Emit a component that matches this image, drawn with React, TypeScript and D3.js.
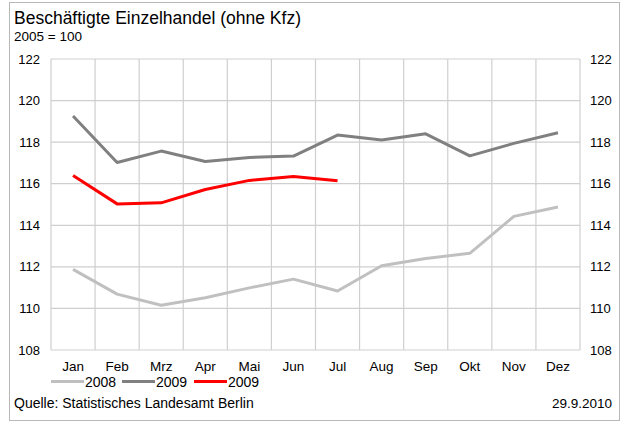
import React from "react";
import * as d3 from "d3";

const months = ["Jan", "Feb", "Mrz", "Apr", "Mai", "Jun", "Jul", "Aug", "Sep", "Okt", "Nov", "Dez"];
const yTicks = [108, 110, 112, 114, 116, 118, 120, 122];

const values2008 = [111.88, 110.69, 110.15, 110.51, 110.99, 111.41, 110.84, 112.05, 112.4, 112.65, 114.43, 114.88];
const values2009 = [119.26, 117.02, 117.57, 117.07, 117.26, 117.33, 118.34, 118.1, 118.4, 117.34, 117.94, 118.45];
const values2009b = [116.4, 115.03, 115.08, 115.72, 116.16, 116.35, 116.14];

const series = [
  { label: "2008", values: values2008, color: "#c0c0c0" },
  { label: "2009", values: values2009, color: "#808080" },
  { label: "2009", values: values2009b, color: "#ff0000" },
];

const W = 621;
const H = 422;
const plot = { left: 51, right: 580, top: 59, bottom: 350 };
const font = "Arial, 'Liberation Sans', sans-serif";

export default function App() {
  const x = d3.scaleBand<string>().domain(months).range([plot.left, plot.right]);
  const y = d3.scaleLinear().domain([108, 122]).range([plot.bottom, plot.top]);
  const line = d3
    .line<number>()
    .x((_, i) => (x(months[i]) as number) + x.bandwidth() / 2)
    .y((d) => y(d));

  const legendX = [51, 122, 194];

  return (
    <svg width={W} height={H} style={{ position: "absolute", left: 0, top: 0 }} fontFamily={font}>
      <rect x={0} y={0} width={W} height={H} fill="#fff" />
      <rect x={9.5} y={2.5} width={610} height={418} fill="none" stroke="#b8b8b8" />
      <text x={14} y={24} fontSize={17.5} fill="#000">Beschäftigte Einzelhandel (ohne Kfz)</text>
      <text x={14} y={41} fontSize={13.5} fill="#000">2005 = 100</text>

      {yTicks.map((t) => (
        <line key={"h" + t} x1={plot.left} x2={plot.right} y1={y(t)} y2={y(t)} stroke="#cfcfcf" strokeWidth={1.2} />
      ))}
      {months.map((m) => (
        <line key={"v" + m} x1={x(m) as number} x2={x(m) as number} y1={plot.top} y2={plot.bottom} stroke="#cfcfcf" strokeWidth={1.2} />
      ))}
      <line x1={plot.right} x2={plot.right} y1={plot.top} y2={plot.bottom} stroke="#cfcfcf" strokeWidth={1.2} />

      {yTicks.map((t) => (
        <g key={"l" + t} fontSize={13} fill="#000">
          <text x={40} y={y(t)} dy="0.35em" textAnchor="end">{t}</text>
          <text x={590} y={y(t)} dy="0.35em">{t}</text>
        </g>
      ))}
      {months.map((m) => (
        <text key={"m" + m} x={(x(m) as number) + x.bandwidth() / 2} y={371} fontSize={13.5} textAnchor="middle">{m}</text>
      ))}

      {series.map((s, i) => (
        <path key={"s" + i} d={line(s.values) || ""} fill="none" stroke={s.color} strokeWidth={3} strokeLinejoin="round" />
      ))}

      {series.map((s, i) => (
        <g key={"g" + i}>
          <line x1={legendX[i]} x2={legendX[i] + 33} y1={381.5} y2={381.5} stroke={s.color} strokeWidth={3} />
          <text x={legendX[i] + 34} y={386.5} fontSize={14}>{s.label}</text>
        </g>
      ))}

      <text x={14} y={408} fontSize={14}>Quelle: Statistisches Landesamt Berlin</text>
      <text x={612} y={408} fontSize={13.5} textAnchor="end">29.9.2010</text>
    </svg>
  );
}
